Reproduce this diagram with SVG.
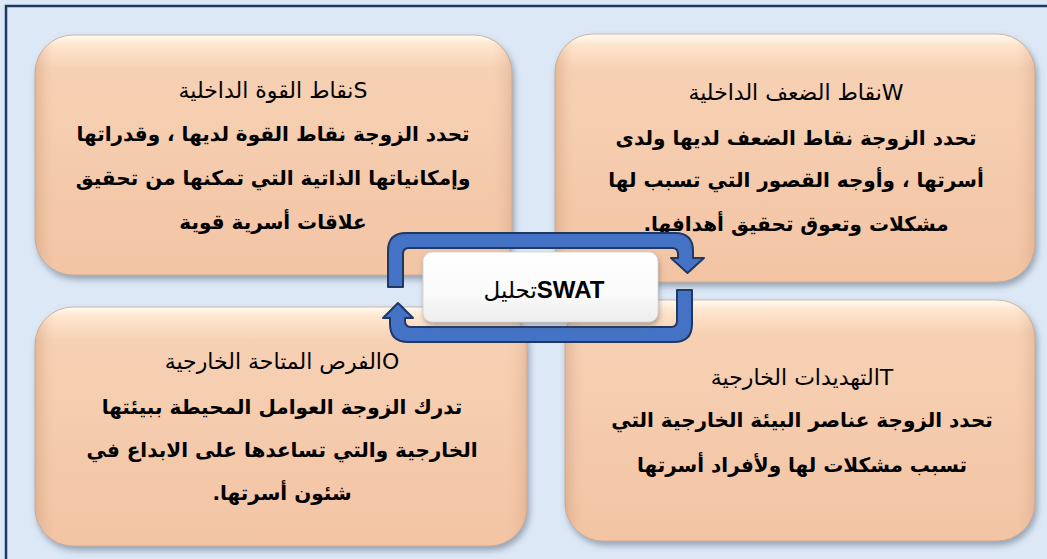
<svg xmlns="http://www.w3.org/2000/svg" width="1047" height="559" viewBox="0 0 1047 559">
  <style>
    .box { fill: url(#peach); stroke: #C7A892; stroke-width: 0.8; filter: url(#shadow); }
    .edge { fill: url(#edgeShade); stroke: none; }
    .title { font-family: "DejaVu Sans", sans-serif; font-size: 22px; font-weight: normal; fill: #000; text-anchor: middle; }
    .body { font-family: "DejaVu Sans", sans-serif; font-size: 20px; font-weight: bold; fill: #000; text-anchor: middle; }
    .arrow { fill: #4472C4; stroke: #1F3864; stroke-width: 2; stroke-linejoin: round; }
    .center { fill: url(#whiteGrad); stroke: #D0D0D0; stroke-width: 0.8; filter: url(#shadow2); }
    .swat { font-family: "Liberation Sans", "DejaVu Sans", sans-serif; font-size: 24px; font-weight: bold; fill: #000; text-anchor: middle; }
    .ar { font-family: "DejaVu Sans", sans-serif; font-weight: normal; font-size: 23px; }
  </style>
  <defs>
    <linearGradient id="peach" x1="0" y1="0" x2="0" y2="1">
      <stop offset="0" stop-color="#FFFBF4"/>
      <stop offset="0.04" stop-color="#FEE6CF"/>
      <stop offset="0.14" stop-color="#F7D1B4"/>
      <stop offset="1" stop-color="#F2C4A4"/>
    </linearGradient>
    <linearGradient id="edgeShade" x1="0" y1="0" x2="1" y2="0">
      <stop offset="0" stop-color="#C99878" stop-opacity="0.45"/>
      <stop offset="0.04" stop-color="#E8B99A" stop-opacity="0"/>
      <stop offset="0.96" stop-color="#E8B99A" stop-opacity="0"/>
      <stop offset="1" stop-color="#C99878" stop-opacity="0.35"/>
    </linearGradient>
    <linearGradient id="whiteGrad" x1="0" y1="0" x2="0" y2="1">
      <stop offset="0" stop-color="#FFFFFF"/>
      <stop offset="0.6" stop-color="#FAFAFA"/>
      <stop offset="1" stop-color="#EDEDED"/>
    </linearGradient>
    <filter id="shadow" x="-5%" y="-5%" width="112%" height="115%">
      <feDropShadow dx="2" dy="4" stdDeviation="3" flood-color="#5A6B80" flood-opacity="0.55"/>
    </filter>
    <filter id="shadow2" x="-5%" y="-10%" width="112%" height="130%">
      <feDropShadow dx="1" dy="3" stdDeviation="2.5" flood-color="#606060" flood-opacity="0.5"/>
    </filter>
  </defs>

  <rect x="0" y="0" width="1047" height="559" fill="#DCE8F5"/>
  <rect x="6" y="6" width="1060" height="570" fill="none" stroke="#1F3864" stroke-width="2.5"/>

  <g id="node-S">
    <rect class="box" x="35" y="35" width="477" height="240" rx="38"/>
    <rect class="edge" x="35" y="35" width="477" height="240" rx="38"/>
    <text class="title" x="273" y="98" direction="rtl">Sنقاط القوة الداخلية</text>
    <text class="body" x="273" y="141" direction="rtl">تحدد الزوجة نقاط القوة لديها ، وقدراتها</text>
    <text class="body" x="273" y="185" direction="rtl">وإمكانياتها الذاتية التي تمكنها من تحقيق</text>
    <text class="body" x="273" y="229" direction="rtl">علاقات أسرية قوية</text>
  </g>

  <g id="node-W">
    <rect class="box" x="555" y="34" width="480" height="248" rx="38"/>
    <rect class="edge" x="555" y="34" width="480" height="248" rx="38"/>
    <text class="title" x="796" y="100" direction="rtl">Wنقاط الضعف الداخلية</text>
    <text class="body" x="796" y="145" direction="rtl">تحدد الزوجة نقاط الضعف لديها ولدى</text>
    <text class="body" x="796" y="187" direction="rtl">أسرتها ، وأوجه القصور التي تسبب لها</text>
    <text class="body" x="796" y="231" direction="rtl">مشكلات وتعوق تحقيق أهدافها.</text>
  </g>

  <g id="node-O">
    <rect class="box" x="35" y="307" width="492" height="239" rx="38"/>
    <rect class="edge" x="35" y="307" width="492" height="239" rx="38"/>
    <text class="title" x="282" y="369" direction="rtl">Oالفرص المتاحة الخارجية</text>
    <text class="body" x="282" y="414" direction="rtl">تدرك الزوجة العوامل المحيطة ببيئتها</text>
    <text class="body" x="282" y="457" direction="rtl">الخارجية والتي تساعدها على الابداع في</text>
    <text class="body" x="282" y="500" direction="rtl">شئون أسرتها.</text>
  </g>

  <g id="node-T">
    <rect class="box" x="565" y="300" width="470" height="241" rx="38"/>
    <rect class="edge" x="565" y="300" width="470" height="241" rx="38"/>
    <text class="title" x="802" y="385" direction="rtl">Tالتهديدات الخارجية</text>
    <text class="body" x="802" y="427" direction="rtl">تحدد الزوجة عناصر البيئة الخارجية التي</text>
    <text class="body" x="802" y="472" direction="rtl">تسبب مشكلات لها ولأفراد أسرتها</text>
  </g>

  <g id="connectors">
    <path class="arrow" d="M388,287 L388,251 Q388,233 406,233 L675,233 Q693,233 693,251 L693,258 L704,258 L687.5,273 L671,258 L678,258 L678,254 Q678,248 672,248 L409,248 Q403,248 403,254 L403,287 Z"/>
    <path class="arrow" d="M692,290 L692,324 Q692,342 674,342 L408,342 Q390,342 390,324 L390,318 L383,318 L398,303 L413,318 L405,318 L405,321 Q405,327 411,327 L671,327 Q677,327 677,321 L677,290 Z"/>
  </g>

  <g id="node-center">
    <rect class="center" x="423" y="252" width="235" height="70" rx="9"/>
    <text class="swat" x="544" y="298" direction="rtl">SWAT<tspan class="ar">تحليل</tspan></text>
  </g>
</svg>
